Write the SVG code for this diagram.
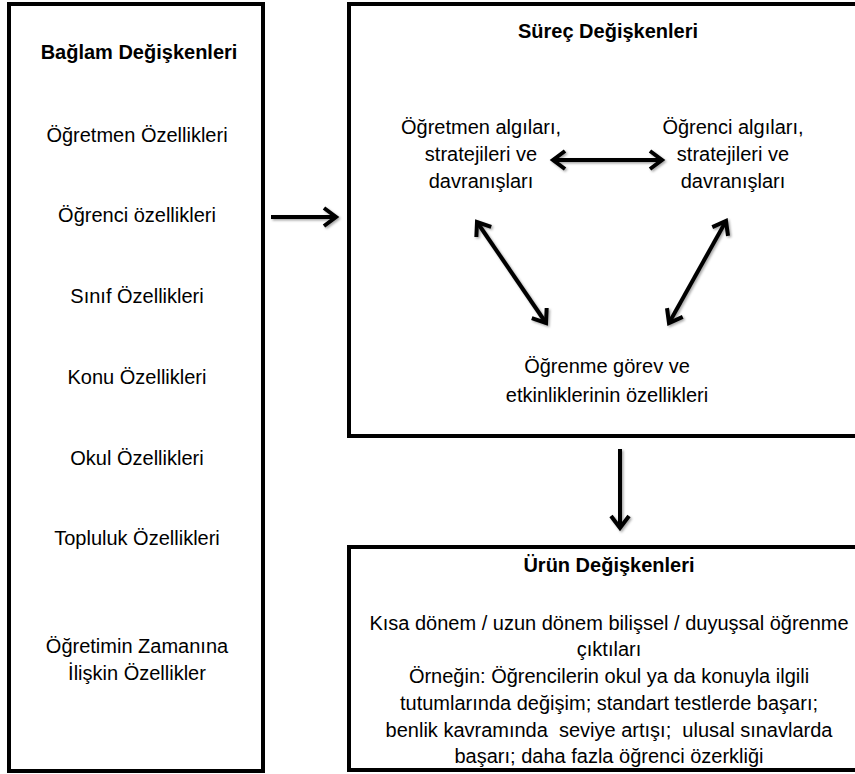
<svg xmlns="http://www.w3.org/2000/svg" width="855" height="774" viewBox="0 0 855 774">
  <style>
    .box { fill: #ffffff; stroke: #000000; stroke-width: 4; }
    text { font-family: "Liberation Sans", Arial, sans-serif; font-size: 20px; fill: #000000; text-anchor: middle; }
    .title { font-weight: bold; }
    .conn { stroke: #000000; stroke-width: 4; fill: none; }
  </style>
  <defs>
    <marker id="head" markerUnits="userSpaceOnUse" markerWidth="30" markerHeight="30" viewBox="-15 -15 30 30" refX="0" refY="0" orient="auto-start-reverse">
      <path d="M-12,-9 L0,0 L-12,9" fill="none" stroke="#000000" stroke-width="4" stroke-linejoin="miter"/>
    </marker>
    <filter id="shadow" x="-20%" y="-20%" width="140%" height="140%">
      <feDropShadow dx="1.5" dy="1.5" stdDeviation="1.2" flood-color="#000000" flood-opacity="0.35"/>
    </filter>
  </defs>

  <rect width="855" height="774" fill="#ffffff"/>

  <g id="baglam">
    <rect class="box" x="9" y="4" width="254" height="767"/>
    <text class="title" x="139" y="59">Bağlam Değişkenleri</text>
    <text x="137" y="142">Öğretmen Özellikleri</text>
    <text x="137" y="222">Öğrenci özellikleri</text>
    <text x="137" y="303">Sınıf Özellikleri</text>
    <text x="137" y="384">Konu Özellikleri</text>
    <text x="137" y="465">Okul Özellikleri</text>
    <text x="137" y="545">Topluluk Özellikleri</text>
    <text x="137" y="653">Öğretimin Zamanına</text>
    <text x="137" y="680">İlişkin Özellikler</text>
  </g>

  <g id="surec">
    <rect class="box" x="349" y="4" width="510" height="432"/>
    <text class="title" x="608" y="38">Süreç Değişkenleri</text>
  </g>

  <g id="ogretmen">
    <text x="481" y="134">Öğretmen algıları,</text>
    <text x="481" y="161">stratejileri ve</text>
    <text x="481" y="188">davranışları</text>
  </g>

  <g id="ogrenci">
    <text x="733" y="134">Öğrenci algıları,</text>
    <text x="733" y="161">stratejileri ve</text>
    <text x="733" y="188">davranışları</text>
  </g>

  <g id="gorev">
    <text x="607" y="373">Öğrenme görev ve</text>
    <text x="607" y="402">etkinliklerinin özellikleri</text>
  </g>

  <g id="urun">
    <rect class="box" x="349" y="547" width="510" height="223"/>
    <text class="title" x="609" y="572">Ürün Değişkenleri</text>
    <text x="609" y="630">Kısa dönem / uzun dönem bilişsel / duyuşsal öğrenme</text>
    <text x="609" y="656">çıktıları</text>
    <text x="609" y="683">Örneğin: Öğrencilerin okul ya da konuyla ilgili</text>
    <text x="609" y="710">tutumlarında değişim; standart testlerde başarı;</text>
    <text x="609" y="737" xml:space="preserve">benlik kavramında  seviye artışı;  ulusal sınavlarda</text>
    <text x="609" y="763">başarı; daha fazla öğrenci özerkliği</text>
  </g>

  <g id="connectors" filter="url(#shadow)">
    <line class="conn" x1="271" y1="217" x2="336" y2="217" marker-end="url(#head)"/>
    <line class="conn" x1="620" y1="449" x2="620" y2="528" marker-end="url(#head)"/>
    <line class="conn" x1="553" y1="160" x2="662" y2="160" marker-start="url(#head)" marker-end="url(#head)"/>
    <line class="conn" x1="477" y1="222" x2="546" y2="323" marker-start="url(#head)" marker-end="url(#head)"/>
    <line class="conn" x1="726" y1="221" x2="669" y2="323" marker-start="url(#head)" marker-end="url(#head)"/>
  </g>
</svg>
